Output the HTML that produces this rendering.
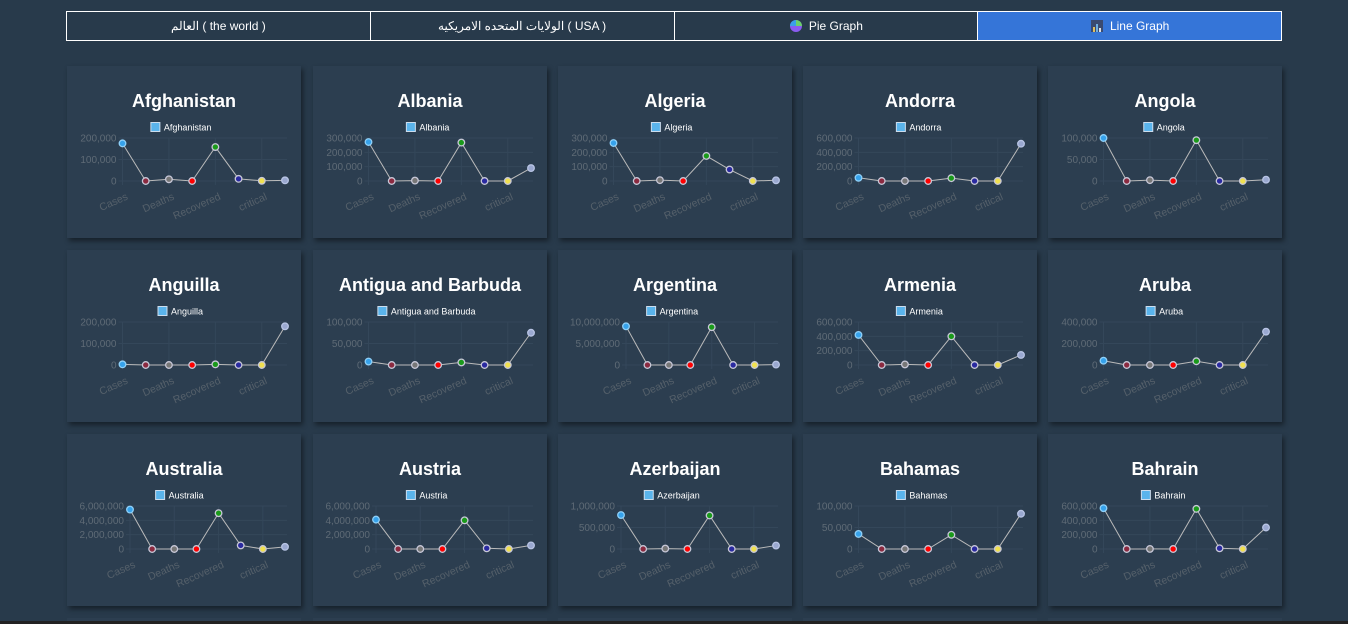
<!DOCTYPE html>
<html><head><meta charset="utf-8">
<style>
html,body{margin:0;width:1348px;height:624px;overflow:hidden}
body{background:#283a4b;font-family:"Liberation Sans","Noto Sans CJK SC",sans-serif;position:relative}
.tabs{position:absolute;left:67px;top:11px;width:1215px;height:30px;display:flex}
.tab{flex:1;border:1px solid #fff;margin-left:-1px;color:#fff;font-size:12px;display:flex;align-items:center;justify-content:center;gap:6px;box-sizing:border-box;height:30px}
.tab.active{background:#3575d8}
.card{position:absolute;width:234px;height:172px;background:#2c3e50;box-shadow:2px 3px 5px rgba(0,0,0,.45)}
.stub{position:absolute;width:234px;height:3px;top:618px;background:#2c3e50}
.bottom{position:absolute;left:0;top:621px;width:1348px;height:3px;background:#222}
</style></head><body>
<div class="tabs">
<div class="tab">العالم ( the world )</div>
<div class="tab">الولايات المتحده الامريكيه ( USA )</div>
<div class="tab"><svg width="14" height="14" viewBox="0 0 14 14"><circle cx="7" cy="7" r="6" fill="#8a5cf0"/><path d="M7 7 L7 1 A6 6 0 0 1 13 7Z" fill="#6ad06a"/><path d="M7 7 L1 7 A6 6 0 0 1 7 1Z" fill="#3aa0e8"/></svg>Pie Graph</div>
<div class="tab active"><svg width="14" height="14" viewBox="0 0 14 14"><rect x="1" y="1" width="12" height="12" fill="#3a4a70"/><rect x="3" y="8" width="2" height="5" fill="#e0c060"/><rect x="6" y="5" width="2" height="8" fill="#70b0e0"/><rect x="9" y="9" width="2" height="4" fill="#e0e0e0"/></svg>Line Graph</div>
</div>
<div id="grid"></div>
<div class="stub" style="left:67px"></div>
<div class="stub" style="left:313px"></div>
<div class="stub" style="left:558px"></div>
<div class="stub" style="left:803px"></div>
<div class="stub" style="left:1048px"></div>
<div class="bottom"></div>
<script>
const countries=["Afghanistan","Albania","Algeria","Andorra","Angola","Anguilla","Antigua and Barbuda","Argentina","Armenia","Aruba","Australia","Austria","Azerbaijan","Bahamas","Bahrain"];
const categories=["Cases","","Deaths","","Recovered","","critical",""];
const v0=[175000,0,8000,0,158000,10000,1000,3000];
const v1=[272000,0,3000,0,268000,0,0,90000];
const v2=[265000,0,6000,0,175000,80000,0,5000];
const v3=[45000,0,0,0,40000,0,0,520000];
const v4=[100000,0,2000,0,95000,0,0,3000];
const v5=[3000,0,0,0,3000,0,0,180000];
const v6=[8000,0,0,0,6000,0,0,75000];
const v7=[9000000,0,0,0,8800000,0,0,100000];
const v8=[420000,0,8000,0,400000,0,0,140000];
const v9=[40000,0,0,0,35000,0,0,310000];
const v10=[5500000,0,0,0,5000000,500000,0,300000];
const v11=[4100000,0,0,0,4000000,100000,0,500000];
const v12=[790000,0,10000,0,780000,0,0,80000];
const v13=[35000,0,0,0,33000,0,0,82000];
const v14=[570000,0,1000,0,560000,10000,0,300000];
const seriesValues=[v0,v1,v2,v3,v4,v5,v6,v7,v8,v9,v10,v11,v12,v13,v14];
const tickMax=[200000,300000,300000,600000,100000,200000,100000,10000000,600000,400000,6000000,6000000,1000000,100000,600000];
const tickStep=[100000,100000,100000,200000,50000,100000,50000,5000000,200000,200000,2000000,2000000,500000,50000,200000];
const pointFill=["#36a2eb","#8b2a40","#777","#ff0000","#1a9a1a","#2a2aa0","#f0e050","#9aa8d0"];
const NS="http://www.w3.org/2000/svg";
const colsX=[67,313,558,803,1048],rowsY=[66,250,434];
function fmt(n){return n.toLocaleString("en-US");}
function tw(s){let w=0;for(const c of s)w+=(c===","?2.5:5);return w;}
const grid=document.getElementById("grid");
countries.forEach((name,k)=>{
 const card=document.createElement("div");card.className="card";
 
 
 card.style.left=colsX[k%5]+"px";card.style.top=rowsY[Math.floor(k/5)]+"px";
 const svg=document.createElementNS(NS,"svg");svg.setAttribute("width",234);svg.setAttribute("height",172);
 const vals=seriesValues[k],max=tickMax[k],step=tickStep[k];
 const ticks=[];for(let t=0;t<=max;t+=step)ticks.push(t);
 const maxW=Math.max(...ticks.map(t=>tw(fmt(t))));
 const left=23+maxW,right=218,top=72,bottom=115;
 const xs=i=>left+i*(right-left)/(categories.length-1);
 const ys=v=>bottom-(v/max)*(bottom-top);
 let h=`<text x="117" y="41" text-anchor="middle" fill="#fff" font-size="18" font-weight="bold">${name}</text>`;
 const lw=tw(name)*0.95+14;const lx=117-lw/2;
 h+=`<rect x="${lx}" y="56.5" width="9" height="9" fill="#5ab4ec" stroke="#cde" stroke-width="1"/><text x="${lx+13}" y="64.5" fill="#fff" font-size="9">${name}</text>`;
 ticks.forEach(t=>{const y=ys(t);h+=`<line x1="${left-4}" x2="${right+2}" y1="${y}" y2="${y}" stroke="#34475a"/><text x="${left-6}" y="${y+3.5}" text-anchor="end" fill="#5f6b76" font-size="10">${fmt(t)}</text>`;});
 categories.forEach((c,i)=>{if(i%2===0){const x=xs(i);h+=`<line x1="${x}" x2="${x}" y1="${top}" y2="${bottom+4}" stroke="#34475a"/><text transform="translate(${x+6},${bottom+18}) rotate(-24)" text-anchor="end" fill="#55606a" font-size="10.5">${c}</text>`;}});
 h+=`<polyline points="${vals.map((v,i)=>xs(i)+","+ys(v)).join(" ")}" fill="none" stroke="#bbb" stroke-width="1"/>`;
 svg.innerHTML=h;
 vals.forEach((v,i)=>{const c=document.createElementNS(NS,"circle");
  c.setAttribute("cx",xs(i));c.setAttribute("cy",ys(v));c.setAttribute("r",3.3);
  c.setAttribute("fill",pointFill[i]);c.setAttribute("stroke",i===0?"#8fd0f8":i===7?"#b8c4e4":"#c8c8d8");c.setAttribute("stroke-width","1.3");
  
  
  svg.appendChild(c);});
 card.appendChild(svg);grid.appendChild(card);
});
</script>
</body></html>
